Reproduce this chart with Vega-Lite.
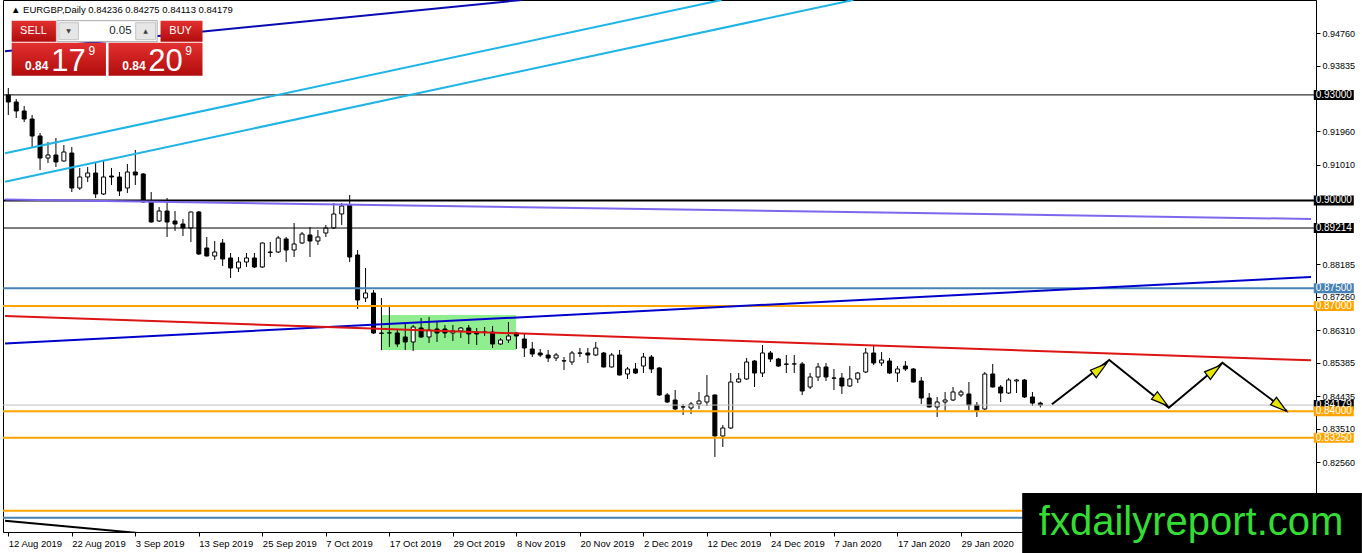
{
"$schema":"https://vega.github.io/schema/vega-lite/v6.json",
"width":1313,"height":532,
"autosize":{"type":"none"},
"padding":{"left":3,"top":0,"right":46,"bottom":21},
"background":"white",
"config":{"view":{"stroke":"#000000","strokeWidth":1},"font":"Liberation Sans"},
"resolve":{"axis":{"x":"independent","y":"independent"}},
"datasets":{
"cd":[
{"i":0,"o":0.92997,"h":0.93196,"l":0.92428,"c":0.92798},
{"i":1,"o":0.92798,"h":0.92883,"l":0.92343,"c":0.92542},
{"i":2,"o":0.92542,"h":0.92684,"l":0.92229,"c":0.92314},
{"i":3,"o":0.92314,"h":0.92428,"l":0.91518,"c":0.91831},
{"i":4,"o":0.91831,"h":0.91916,"l":0.90864,"c":0.91205},
{"i":5,"o":0.91205,"h":0.9166,"l":0.91063,"c":0.91291},
{"i":6,"o":0.91291,"h":0.91774,"l":0.90949,"c":0.91092},
{"i":7,"o":0.9112,"h":0.91575,"l":0.911,"c":0.91376},
{"i":8,"o":0.91347,"h":0.91518,"l":0.90238,"c":0.90352},
{"i":9,"o":0.90352,"h":0.90921,"l":0.90295,"c":0.90665},
{"i":10,"o":0.90665,"h":0.90949,"l":0.90523,"c":0.90779},
{"i":11,"o":0.90779,"h":0.91063,"l":0.90068,"c":0.90182},
{"i":12,"o":0.90182,"h":0.91148,"l":0.90153,"c":0.90665},
{"i":13,"o":0.90693,"h":0.90921,"l":0.90438,"c":0.90665},
{"i":14,"o":0.90665,"h":0.90807,"l":0.90125,"c":0.90267},
{"i":15,"o":0.90352,"h":0.91035,"l":0.9021,"c":0.90807},
{"i":16,"o":0.90807,"h":0.91433,"l":0.90438,"c":0.90722},
{"i":17,"o":0.9075,"h":0.90779,"l":0.8994,"c":0.89954},
{"i":18,"o":0.89954,"h":0.90238,"l":0.8937,"c":0.89385},
{"i":19,"o":0.89414,"h":0.89812,"l":0.89385,"c":0.89698},
{"i":20,"o":0.89698,"h":0.90068,"l":0.88959,"c":0.89385},
{"i":21,"o":0.89414,"h":0.89698,"l":0.89129,"c":0.89328},
{"i":22,"o":0.89328,"h":0.89471,"l":0.88987,"c":0.89215},
{"i":23,"o":0.89215,"h":0.8968,"l":0.88817,"c":0.8967},
{"i":24,"o":0.8967,"h":0.89698,"l":0.88447,"c":0.88475},
{"i":25,"o":0.88646,"h":0.88959,"l":0.88405,"c":0.88418},
{"i":26,"o":0.88418,"h":0.88845,"l":0.88305,"c":0.88532},
{"i":27,"o":0.88788,"h":0.88902,"l":0.88134,"c":0.88333},
{"i":28,"o":0.88362,"h":0.88504,"l":0.87793,"c":0.88077},
{"i":29,"o":0.88077,"h":0.8839,"l":0.87963,"c":0.88248},
{"i":30,"o":0.88248,"h":0.88504,"l":0.88106,"c":0.88362},
{"i":31,"o":0.88362,"h":0.88504,"l":0.88077,"c":0.88106},
{"i":32,"o":0.88106,"h":0.888,"l":0.88077,"c":0.88788},
{"i":33,"o":0.88532,"h":0.88817,"l":0.8839,"c":0.8852},
{"i":34,"o":0.88532,"h":0.88987,"l":0.88504,"c":0.8893},
{"i":35,"o":0.88902,"h":0.88959,"l":0.88248,"c":0.88589},
{"i":36,"o":0.88589,"h":0.89357,"l":0.8839,"c":0.8876},
{"i":37,"o":0.88788,"h":0.89101,"l":0.8876,"c":0.89044},
{"i":38,"o":0.89016,"h":0.89243,"l":0.8839,"c":0.88845},
{"i":39,"o":0.88845,"h":0.89158,"l":0.88731,"c":0.88959},
{"i":40,"o":0.89072,"h":0.893,"l":0.88959,"c":0.89215},
{"i":41,"o":0.89215,"h":0.89926,"l":0.89186,"c":0.89613},
{"i":42,"o":0.89613,"h":0.89926,"l":0.893,"c":0.8984},
{"i":43,"o":0.89869,"h":0.90153,"l":0.88248,"c":0.8839},
{"i":44,"o":0.88447,"h":0.88589,"l":0.86911,"c":0.87167},
{"i":45,"o":0.87224,"h":0.88077,"l":0.8711,"c":0.87366},
{"i":46,"o":0.87366,"h":0.87451,"l":0.862,"c":0.86229},
{"i":47,"o":0.86229,"h":0.87224,"l":0.85745,"c":0.8622},
{"i":48,"o":0.86229,"h":0.86968,"l":0.85831,"c":0.86235},
{"i":49,"o":0.86229,"h":0.86314,"l":0.85831,"c":0.85916},
{"i":50,"o":0.86115,"h":0.86541,"l":0.85745,"c":0.85973},
{"i":51,"o":0.85973,"h":0.86456,"l":0.85717,"c":0.86399},
{"i":52,"o":0.86371,"h":0.86655,"l":0.86086,"c":0.86115},
{"i":53,"o":0.86115,"h":0.86684,"l":0.85944,"c":0.86314},
{"i":54,"o":0.86342,"h":0.86541,"l":0.85973,"c":0.86229},
{"i":55,"o":0.86342,"h":0.86456,"l":0.86086,"c":0.86229},
{"i":56,"o":0.86229,"h":0.86456,"l":0.86001,"c":0.86286},
{"i":57,"o":0.86286,"h":0.86399,"l":0.86086,"c":0.86371},
{"i":58,"o":0.86371,"h":0.86456,"l":0.85916,"c":0.862},
{"i":59,"o":0.86257,"h":0.86371,"l":0.85887,"c":0.862},
{"i":60,"o":0.86257,"h":0.86399,"l":0.86143,"c":0.8625},
{"i":61,"o":0.86257,"h":0.86428,"l":0.85802,"c":0.85916},
{"i":62,"o":0.85916,"h":0.86086,"l":0.85887,"c":0.8603},
{"i":63,"o":0.8603,"h":0.86541,"l":0.85944,"c":0.86143},
{"i":64,"o":0.86229,"h":0.86257,"l":0.85774,"c":0.86143},
{"i":65,"o":0.86058,"h":0.86229,"l":0.85546,"c":0.85802},
{"i":66,"o":0.85774,"h":0.85973,"l":0.85546,"c":0.85631},
{"i":67,"o":0.8566,"h":0.85774,"l":0.85546,"c":0.85603},
{"i":68,"o":0.85603,"h":0.85745,"l":0.85404,"c":0.85518},
{"i":69,"o":0.85518,"h":0.8566,"l":0.85432,"c":0.85603},
{"i":70,"o":0.85432,"h":0.85546,"l":0.85176,"c":0.8544},
{"i":71,"o":0.85404,"h":0.85717,"l":0.85319,"c":0.8566},
{"i":72,"o":0.8566,"h":0.85802,"l":0.85546,"c":0.85655},
{"i":73,"o":0.8566,"h":0.85802,"l":0.85376,"c":0.85603},
{"i":74,"o":0.85603,"h":0.85973,"l":0.85575,"c":0.85802},
{"i":75,"o":0.8566,"h":0.85688,"l":0.8525,"c":0.85262},
{"i":76,"o":0.85262,"h":0.8566,"l":0.8525,"c":0.85603},
{"i":77,"o":0.85603,"h":0.85745,"l":0.8502,"c":0.85034},
{"i":78,"o":0.85063,"h":0.85262,"l":0.84921,"c":0.85205},
{"i":79,"o":0.85205,"h":0.85376,"l":0.85063,"c":0.85091},
{"i":80,"o":0.8529,"h":0.8566,"l":0.85091,"c":0.85546},
{"i":81,"o":0.85546,"h":0.85603,"l":0.85091,"c":0.85205},
{"i":82,"o":0.85233,"h":0.85262,"l":0.84437,"c":0.84466},
{"i":83,"o":0.84466,"h":0.84522,"l":0.84238,"c":0.84266},
{"i":84,"o":0.84323,"h":0.84608,"l":0.84039,"c":0.84067},
{"i":85,"o":0.84124,"h":0.8421,"l":0.83897,"c":0.8413},
{"i":86,"o":0.84096,"h":0.84266,"l":0.83925,"c":0.8421},
{"i":87,"o":0.8421,"h":0.84551,"l":0.84067,"c":0.84295},
{"i":88,"o":0.84266,"h":0.85034,"l":0.84153,"c":0.84437},
{"i":89,"o":0.84466,"h":0.8448,"l":0.82702,"c":0.833},
{"i":90,"o":0.833,"h":0.83612,"l":0.82987,"c":0.83527},
{"i":91,"o":0.83527,"h":0.85091,"l":0.83499,"c":0.84835},
{"i":92,"o":0.84835,"h":0.85091,"l":0.84807,"c":0.84921},
{"i":93,"o":0.84921,"h":0.85518,"l":0.84892,"c":0.85404},
{"i":94,"o":0.85432,"h":0.85461,"l":0.84693,"c":0.85091},
{"i":95,"o":0.85091,"h":0.85887,"l":0.84977,"c":0.8566},
{"i":96,"o":0.8566,"h":0.85717,"l":0.85404,"c":0.85489},
{"i":97,"o":0.85489,"h":0.85518,"l":0.85262,"c":0.8529},
{"i":98,"o":0.85347,"h":0.85603,"l":0.85091,"c":0.8534},
{"i":99,"o":0.85347,"h":0.85603,"l":0.85091,"c":0.8535},
{"i":100,"o":0.85347,"h":0.85404,"l":0.84466,"c":0.84579},
{"i":101,"o":0.84693,"h":0.85091,"l":0.84636,"c":0.84977},
{"i":102,"o":0.84977,"h":0.85376,"l":0.84864,"c":0.85262},
{"i":103,"o":0.85262,"h":0.85376,"l":0.84864,"c":0.84977},
{"i":104,"o":0.84949,"h":0.85205,"l":0.84608,"c":0.84945},
{"i":105,"o":0.84949,"h":0.85091,"l":0.84494,"c":0.84721},
{"i":106,"o":0.84721,"h":0.8529,"l":0.84693,"c":0.84921},
{"i":107,"o":0.84921,"h":0.8512,"l":0.84807,"c":0.85091},
{"i":108,"o":0.8512,"h":0.85802,"l":0.85091,"c":0.8566},
{"i":109,"o":0.8566,"h":0.85887,"l":0.85319,"c":0.85376},
{"i":110,"o":0.85376,"h":0.85688,"l":0.8529,"c":0.85461},
{"i":111,"o":0.85432,"h":0.85518,"l":0.85063,"c":0.85091},
{"i":112,"o":0.85091,"h":0.8529,"l":0.84835,"c":0.85205},
{"i":113,"o":0.8529,"h":0.85432,"l":0.85148,"c":0.85205},
{"i":114,"o":0.85205,"h":0.85233,"l":0.8482,"c":0.84835},
{"i":115,"o":0.84864,"h":0.84977,"l":0.8421,"c":0.8438},
{"i":116,"o":0.8438,"h":0.84522,"l":0.8411,"c":0.84124},
{"i":117,"o":0.84124,"h":0.84409,"l":0.8384,"c":0.84266},
{"i":118,"o":0.84266,"h":0.84551,"l":0.84011,"c":0.84323},
{"i":119,"o":0.84323,"h":0.84693,"l":0.84295,"c":0.84551},
{"i":120,"o":0.84466,"h":0.84608,"l":0.84409,"c":0.84551},
{"i":121,"o":0.84494,"h":0.84835,"l":0.84039,"c":0.84181},
{"i":122,"o":0.84181,"h":0.84266,"l":0.8384,"c":0.84011},
{"i":123,"o":0.84067,"h":0.8512,"l":0.84039,"c":0.85063},
{"i":124,"o":0.85063,"h":0.85347,"l":0.8468,"c":0.84693},
{"i":125,"o":0.84693,"h":0.8475,"l":0.84266,"c":0.84522},
{"i":126,"o":0.84522,"h":0.84949,"l":0.84494,"c":0.84892},
{"i":127,"o":0.84864,"h":0.84921,"l":0.84522,"c":0.84892},
{"i":128,"o":0.84892,"h":0.84921,"l":0.8438,"c":0.84409},
{"i":129,"o":0.84409,"h":0.84551,"l":0.84153,"c":0.84236},
{"i":130,"o":0.84236,"h":0.84275,"l":0.84113,"c":0.84179}
],
"lv":[
{"id":"l930","p":0.93},{"id":"l900","p":0.9},{"id":"l892","p":0.89214},{"id":"l875","p":0.875},{"id":"l870","p":0.87},
{"id":"bid","p":0.84179},{"id":"l840","p":0.84},{"id":"l8325","p":0.8325},{"id":"l8118","p":0.81175},{"id":"l8098","p":0.80976}
],
"tl":[
{"id":"db","i":-0.41,"p":0.94243},{"id":"db","i":64.68,"p":0.956985},
{"id":"c1","i":-0.41,"p":0.91339},{"id":"c1","i":89.84,"p":0.956985},
{"id":"c2","i":-0.41,"p":0.90531},{"id":"c2","i":106.42,"p":0.956985},
{"id":"pu","i":-0.41,"p":0.90025},{"id":"pu","i":164.09,"p":0.89471},
{"id":"bl","i":-0.41,"p":0.8593},{"id":"bl","i":164.09,"p":0.87821},
{"id":"rd","i":-0.41,"p":0.86712},{"id":"rd","i":164.09,"p":0.85452},
{"id":"bk","i":-0.41,"p":0.80891},{"id":"bk","i":24.59,"p":0.80368},
{"id":"ar","i":131.46,"p":0.84201},{"id":"ar","i":138.68,"p":0.85461},{"id":"ar","i":146.18,"p":0.84104},{"id":"ar","i":152.93,"p":0.85384},{"id":"ar","i":161.05,"p":0.8401}
],
"heads":[
{"i":137.3,"p":0.85176,"d":"up"},{"i":145.0,"p":0.84343,"d":"down"},{"i":151.68,"p":0.85128,"d":"up"},{"i":160.0,"p":0.84181,"d":"down"}
],
"tags":[
{"t":"0.93000","p":0.93,"k":"blk"},{"t":"0.90000","p":0.9,"k":"blk"},{"t":"0.89214","p":0.89214,"k":"blk"},
{"t":"0.87500","p":0.875,"k":"sb"},{"t":"0.87000","p":0.87,"k":"or"},{"t":"0.84179","p":0.84179,"k":"bid"},
{"t":"0.84000","p":0.84,"k":"or"},{"t":"0.83250","p":0.8325,"k":"or"}
]
},
"layer":[
{"data":{"values":[{"i0":47.0,"i1":63.96,"p0":0.86741,"p1":0.85745}]},
 "mark":{"type":"rect","color":"#90EE90","clip":true},
 "encoding":{"x":{"field":"i0","type":"quantitative","scale":{"domain":[-0.0375,164.09],"nice":false,"zero":false},"axis":null},"x2":{"field":"i1"},
  "y":{"field":"p0","type":"quantitative","scale":{"domain":[0.805695,0.956985],"nice":false,"zero":false},"axis":null},"y2":{"field":"p1"}}},
{"data":{"name":"cd"},
 "mark":{"type":"rule","color":"#000000","strokeWidth":1,"clip":true},
 "encoding":{
  "x":{"field":"i","type":"quantitative","scale":{"domain":[-0.0375,164.09],"nice":false,"zero":false},
   "axis":{"orient":"bottom","title":null,"values":[0,8,16,24,32,40,48,56,64,72,80,88,96,104,112,120],
    "labelExpr":"['12 Aug 2019','22 Aug 2019','3 Sep 2019','13 Sep 2019','25 Sep 2019','7 Oct 2019','17 Oct 2019','29 Oct 2019','8 Nov 2019','20 Nov 2019','2 Dec 2019','12 Dec 2019','24 Dec 2019','7 Jan 2020','17 Jan 2020','29 Jan 2020'][round(datum.value/8)]",
    "grid":false,"domain":true,"domainColor":"#000000","ticks":true,"tickColor":"#000000","tickSize":4,"zindex":0,
    "labelAlign":"left","labelBaseline":"top","labelPadding":2,"labelFont":"Liberation Sans","labelFontSize":9.5,"labelColor":"#000000",
    "labelFlush":false,"labelOverlap":false,"labelBound":false}},
  "y":{"field":"l","type":"quantitative","scale":{"domain":[0.805695,0.956985],"nice":false,"zero":false},
   "axis":{"orient":"right","title":null,"values":[0.9476,0.93835,0.9196,0.9101,0.88185,0.8726,0.8631,0.85385,0.84435,0.8351,0.8256,0.8161],
    "format":".5f","grid":false,"domain":true,"domainColor":"#000000","ticks":true,"tickColor":"#000000","tickSize":4,"zindex":0,
    "labelBaseline":"middle","labelPadding":2,"labelFont":"Liberation Sans","labelFontSize":9,"labelColor":"#000000",
    "labelFlush":false,"labelOverlap":false,"labelBound":false}},
  "y2":{"field":"h"}}},
{"data":{"name":"cd"},
 "mark":{"type":"bar","width":4,"stroke":"#000000","strokeWidth":1,"clip":true},
 "encoding":{
  "x":{"field":"i","type":"quantitative","scale":{"domain":[-0.0375,164.09],"nice":false,"zero":false},"axis":null},
  "y":{"field":"o","type":"quantitative","scale":{"domain":[0.805695,0.956985],"nice":false,"zero":false},"axis":null},
  "y2":{"field":"c"},
  "fill":{"condition":{"test":"datum.o > datum.c","value":"#000000"},"value":"#FFFFFF"}}},
{"data":{"name":"lv"},
 "transform":[{"filter":{"field":"id","oneOf":["l930","l892","bid"]}}],
 "mark":{"type":"rule","strokeWidth":1,"clip":true},
 "encoding":{
  "y":{"field":"p","type":"quantitative","scale":{"domain":[0.805695,0.956985],"nice":false,"zero":false},"axis":null},
  "color":{"field":"id","type":"nominal","legend":null,
   "scale":{"domain":["l930","l900","l892","l875","l870","bid","l840","l8325","l8118","l8098","db","c1","c2","pu","bl","rd","bk","ar"],
    "range":["#000000","#000000","#000000","#4682B4","#FFA500","#C0C0C0","#FFA500","#FFA500","#FFA500","#4682B4","#0A0AB4","#1EB4E6","#1EB4E6","#7B68EE","#0000CD","#DC1414","#000000","#000000"]}}}},
{"data":{"name":"lv"},
 "transform":[{"filter":{"not":{"field":"id","oneOf":["l930","l892","bid"]}}}],
 "mark":{"type":"rule","strokeWidth":2,"clip":true},
 "encoding":{
  "y":{"field":"p","type":"quantitative","scale":{"domain":[0.805695,0.956985],"nice":false,"zero":false},"axis":null},
  "color":{"field":"id","type":"nominal","legend":null,
   "scale":{"domain":["l930","l900","l892","l875","l870","bid","l840","l8325","l8118","l8098","db","c1","c2","pu","bl","rd","bk","ar"],
    "range":["#000000","#000000","#000000","#4682B4","#FFA500","#C0C0C0","#FFA500","#FFA500","#FFA500","#4682B4","#0A0AB4","#1EB4E6","#1EB4E6","#7B68EE","#0000CD","#DC1414","#000000","#000000"]}}}},
{"data":{"name":"tl"},
 "mark":{"type":"line","strokeWidth":2,"clip":true},
 "encoding":{
  "x":{"field":"i","type":"quantitative","scale":{"domain":[-0.0375,164.09],"nice":false,"zero":false},"axis":null},
  "y":{"field":"p","type":"quantitative","scale":{"domain":[0.805695,0.956985],"nice":false,"zero":false},"axis":null},
  "detail":{"field":"id"},
  "color":{"field":"id","type":"nominal","legend":null,
   "scale":{"domain":["l930","l900","l892","l875","l870","bid","l840","l8325","l8118","l8098","db","c1","c2","pu","bl","rd","bk","ar"],
    "range":["#000000","#000000","#000000","#4682B4","#FFA500","#C0C0C0","#FFA500","#FFA500","#FFA500","#4682B4","#0A0AB4","#1EB4E6","#1EB4E6","#7B68EE","#0000CD","#DC1414","#000000","#000000"]}}}},
{"data":{"name":"heads"},
 "transform":[{"filter":"datum.d == 'up'"}],
 "mark":{"type":"point","shape":"M0,-1L0.45,0.6L-0.45,0.6Z","size":450,"angle":52,"filled":true,"fill":"#E6E600","stroke":"#000000","strokeWidth":1.2,"opacity":1},
 "encoding":{
  "x":{"field":"i","type":"quantitative","scale":{"domain":[-0.0375,164.09],"nice":false,"zero":false},"axis":null},
  "y":{"field":"p","type":"quantitative","scale":{"domain":[0.805695,0.956985],"nice":false,"zero":false},"axis":null}}},
{"data":{"name":"heads"},
 "transform":[{"filter":"datum.d == 'down'"}],
 "mark":{"type":"point","shape":"M0,-1L0.45,0.6L-0.45,0.6Z","size":450,"angle":128,"filled":true,"fill":"#E6E600","stroke":"#000000","strokeWidth":1.2,"opacity":1},
 "encoding":{
  "x":{"field":"i","type":"quantitative","scale":{"domain":[-0.0375,164.09],"nice":false,"zero":false},"axis":null},
  "y":{"field":"p","type":"quantitative","scale":{"domain":[0.805695,0.956985],"nice":false,"zero":false},"axis":null}}},
{"data":{"values":[{"t":"▲ EURGBP,Daily  0.84236 0.84275 0.84113 0.84179"}]},
 "mark":{"type":"text","align":"left","baseline":"middle","font":"Liberation Sans","fontSize":9.5,"color":"#000000"},
 "encoding":{"text":{"field":"t"},
  "x":{"datum":0.34,"type":"quantitative","scale":{"domain":[-0.0375,164.09],"nice":false,"zero":false},"axis":null},
  "y":{"datum":0.954141,"type":"quantitative","scale":{"domain":[0.805695,0.956985],"nice":false,"zero":false},"axis":null}}},
{"data":{"values":[{"x0":0.425,"x1":6.0,"y0":0.951098,"y1":0.945126},{"x0":19.175,"x1":24.4625,"y0":0.951098,"y1":0.945126},{"x0":0.425,"x1":12.3,"y0":0.944842,"y1":0.935457},{"x0":12.625,"x1":24.4625,"y0":0.944842,"y1":0.935457}]},
 "mark":{"type":"rect","color":{"gradient":"linear","x1":0,"y1":0,"x2":0,"y2":1,"stops":[{"offset":0,"color":"#E33030"},{"offset":1,"color":"#B10C0C"}]}},
 "encoding":{
  "x":{"field":"x0","type":"quantitative","scale":{"domain":[-0.0375,164.09],"nice":false,"zero":false},"axis":null},"x2":{"field":"x1"},
  "y":{"field":"y0","type":"quantitative","scale":{"domain":[0.805695,0.956985],"nice":false,"zero":false},"axis":null},"y2":{"field":"y1"}}},
{"data":{"values":[{"x0":6.125,"x1":18.75,"y0":0.951098,"y1":0.945126}]},
 "mark":{"type":"rect","fill":"#FFFFFF","stroke":"#A8A8A8","strokeWidth":1},
 "encoding":{
  "x":{"field":"x0","type":"quantitative","scale":{"domain":[-0.0375,164.09],"nice":false,"zero":false},"axis":null},"x2":{"field":"x1"},
  "y":{"field":"y0","type":"quantitative","scale":{"domain":[0.805695,0.956985],"nice":false,"zero":false},"axis":null},"y2":{"field":"y1"}}},
{"data":{"values":[{"x0":6.375,"x1":8.8375,"y0":0.95053,"y1":0.945695},{"x0":16.05,"x1":18.55,"y0":0.95053,"y1":0.945695}]},
 "mark":{"type":"rect","fill":"#E6E6E6","stroke":"#C4C4C4","strokeWidth":1},
 "encoding":{
  "x":{"field":"x0","type":"quantitative","scale":{"domain":[-0.0375,164.09],"nice":false,"zero":false},"axis":null},"x2":{"field":"x1"},
  "y":{"field":"y0","type":"quantitative","scale":{"domain":[0.805695,0.956985],"nice":false,"zero":false},"axis":null},"y2":{"field":"y1"}}},
{"data":{"values":[{"t":"SELL","x":3.175,"y":0.948169},{"t":"BUY","x":21.71,"y":0.948169}]},
 "mark":{"type":"text","align":"center","baseline":"middle","font":"Liberation Sans","fontSize":11,"color":"#FFFFFF"},
 "encoding":{"text":{"field":"t"},
  "x":{"field":"x","type":"quantitative","scale":{"domain":[-0.0375,164.09],"nice":false,"zero":false},"axis":null},
  "y":{"field":"y","type":"quantitative","scale":{"domain":[0.805695,0.956985],"nice":false,"zero":false},"axis":null}}},
{"data":{"values":[{"t":"▼","x":7.6,"y":0.948169},{"t":"▲","x":17.3,"y":0.948169}]},
 "mark":{"type":"text","align":"center","baseline":"middle","font":"DejaVu Sans","fontSize":6,"color":"#404040"},
 "encoding":{"text":{"field":"t"},
  "x":{"field":"x","type":"quantitative","scale":{"domain":[-0.0375,164.09],"nice":false,"zero":false},"axis":null},
  "y":{"field":"y","type":"quantitative","scale":{"domain":[0.805695,0.956985],"nice":false,"zero":false},"axis":null}}},
{"data":{"values":[{"t":"0.05","x":15.525,"y":0.948311}]},
 "mark":{"type":"text","align":"right","baseline":"middle","font":"Liberation Sans","fontSize":11.5,"color":"#222222"},
 "encoding":{"text":{"field":"t"},
  "x":{"field":"x","type":"quantitative","scale":{"domain":[-0.0375,164.09],"nice":false,"zero":false},"axis":null},
  "y":{"field":"y","type":"quantitative","scale":{"domain":[0.805695,0.956985],"nice":false,"zero":false},"axis":null}}},
{"data":{"values":[{"t":"0.84","x":3.5875,"y":0.937078},{"t":"0.84","x":15.8375,"y":0.937078}]},
 "mark":{"type":"text","align":"center","baseline":"alphabetic","font":"Liberation Sans","fontSize":12,"fontWeight":"bold","color":"#FFFFFF"},
 "encoding":{"text":{"field":"t"},
  "x":{"field":"x","type":"quantitative","scale":{"domain":[-0.0375,164.09],"nice":false,"zero":false},"axis":null},
  "y":{"field":"y","type":"quantitative","scale":{"domain":[0.805695,0.956985],"nice":false,"zero":false},"axis":null}}},
{"data":{"values":[{"t":"17","x":7.5875,"y":0.936879},{"t":"20","x":19.8,"y":0.936879}]},
 "mark":{"type":"text","align":"center","baseline":"alphabetic","font":"Liberation Sans","fontSize":31,"color":"#FFFFFF"},
 "encoding":{"text":{"field":"t"},
  "x":{"field":"x","type":"quantitative","scale":{"domain":[-0.0375,164.09],"nice":false,"zero":false},"axis":null},
  "y":{"field":"y","type":"quantitative","scale":{"domain":[0.805695,0.956985],"nice":false,"zero":false},"axis":null}}},
{"data":{"values":[{"t":"9","x":10.525,"y":0.941344},{"t":"9","x":22.7125,"y":0.941344}]},
 "mark":{"type":"text","align":"center","baseline":"alphabetic","font":"Liberation Sans","fontSize":12,"color":"#FFFFFF"},
 "encoding":{"text":{"field":"t"},
  "x":{"field":"x","type":"quantitative","scale":{"domain":[-0.0375,164.09],"nice":false,"zero":false},"axis":null},
  "y":{"field":"y","type":"quantitative","scale":{"domain":[0.805695,0.956985],"nice":false,"zero":false},"axis":null}}},
{"data":{"name":"tags"},
 "transform":[{"filter":"datum.k == 'bid'"}],
 "mark":{"type":"point","shape":"M-1,-0.25H1V0.25H-1Z","size":1600,"filled":true,"fill":"#000000","strokeWidth":0,"opacity":1},
 "encoding":{
  "x":{"datum":166.96,"type":"quantitative","scale":{"domain":[-0.0375,164.09],"nice":false,"zero":false},"axis":null},
  "y":{"field":"p","type":"quantitative","scale":{"domain":[0.805695,0.956985],"nice":false,"zero":false},"axis":null}}},
{"data":{"name":"tags"},
 "transform":[{"filter":"datum.k == 'bid'"}],
 "mark":{"type":"text","align":"left","baseline":"middle","font":"Liberation Sans","fontSize":10,"color":"#FFFFFF"},
 "encoding":{"text":{"field":"t"},
  "x":{"datum":164.68,"type":"quantitative","scale":{"domain":[-0.0375,164.09],"nice":false,"zero":false},"axis":null},
  "y":{"field":"p","type":"quantitative","scale":{"domain":[0.805695,0.956985],"nice":false,"zero":false},"axis":null}}},
{"data":{"name":"tags"},
 "transform":[{"filter":"datum.k != 'bid'"}],
 "mark":{"type":"point","shape":"M-1,-0.25H1V0.25H-1Z","size":1600,"filled":true,"strokeWidth":0,"opacity":1},
 "encoding":{
  "x":{"datum":166.96,"type":"quantitative","scale":{"domain":[-0.0375,164.09],"nice":false,"zero":false},"axis":null},
  "y":{"field":"p","type":"quantitative","scale":{"domain":[0.805695,0.956985],"nice":false,"zero":false},"axis":null},
  "fill":{"field":"k","type":"nominal","legend":null,"scale":{"domain":["blk","sb","or"],"range":["#000000","#4682B4","#FFA500"]}}}},
{"data":{"name":"tags"},
 "transform":[{"filter":"datum.k != 'bid'"}],
 "mark":{"type":"text","align":"left","baseline":"middle","font":"Liberation Sans","fontSize":10,"color":"#FFFFFF"},
 "encoding":{"text":{"field":"t"},
  "x":{"datum":164.68,"type":"quantitative","scale":{"domain":[-0.0375,164.09],"nice":false,"zero":false},"axis":null},
  "y":{"field":"p","type":"quantitative","scale":{"domain":[0.805695,0.956985],"nice":false,"zero":false},"axis":null}}},
{"data":{"values":[{"x0":127.71,"x1":170.5,"y0":0.816786,"y1":0.7995}]},
 "mark":{"type":"rect","fill":"#000000"},
 "encoding":{
  "x":{"field":"x0","type":"quantitative","scale":{"domain":[-0.0375,164.09],"nice":false,"zero":false},"axis":null},"x2":{"field":"x1"},
  "y":{"field":"y0","type":"quantitative","scale":{"domain":[0.805695,0.956985],"nice":false,"zero":false},"axis":null},"y2":{"field":"y1"}}},
{"data":{"values":[{"t":"fxdailyreport.com","x":129.8,"y":0.80484}]},
 "mark":{"type":"text","align":"left","baseline":"alphabetic","font":"Liberation Sans","fontSize":40,"color":"#33DD33"},
 "encoding":{"text":{"field":"t"},
  "x":{"field":"x","type":"quantitative","scale":{"domain":[-0.0375,164.09],"nice":false,"zero":false},"axis":null},
  "y":{"field":"y","type":"quantitative","scale":{"domain":[0.805695,0.956985],"nice":false,"zero":false},"axis":null}}}
]
}
